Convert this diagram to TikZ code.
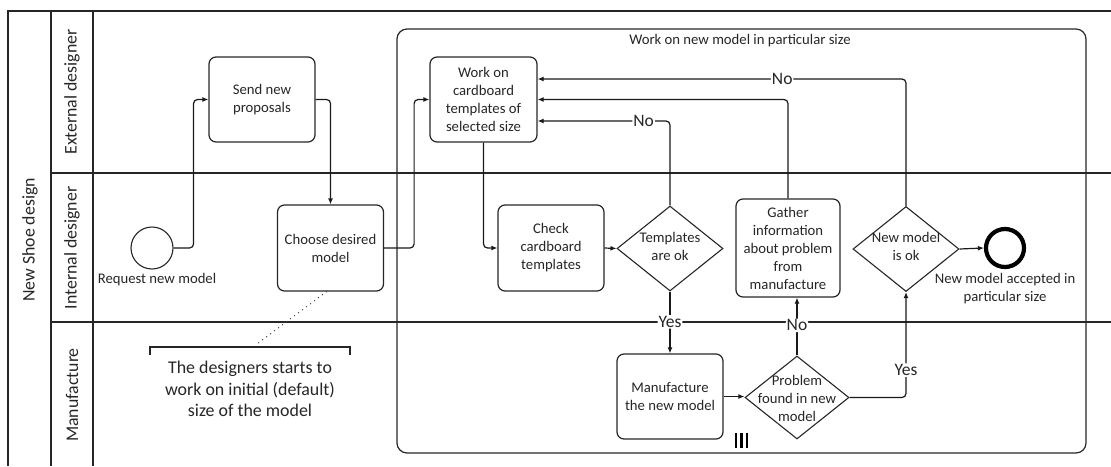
\documentclass[tikz,border=0pt]{standalone}
\usepackage{fontspec}
\setmainfont{Carlito}
\usetikzlibrary{shapes.geometric,arrows.meta}

\newcommand\fmain{\fontsize{14.7}{18}\selectfont}
\newcommand\fedge{\fontsize{17.5}{20}\selectfont}
\newcommand\flane{\fontsize{17.8}{21}\selectfont}
\newcommand\fnote{\fontsize{17.9}{21.5}\selectfont}

\begin{document}
\begin{tikzpicture}[x=1pt,y=-1pt,
  every node/.style={text=black!85},
  pool/.style={draw=black!85, line width=1.3pt},
  task/.style={draw=black!85, line width=1.2pt, rounded corners=7pt,
    minimum width=106pt, minimum height=85pt, align=center, inner sep=2pt, font=\fmain},
  gate/.style={diamond, draw=black!85, line width=1.1pt,
    minimum width=106pt, minimum height=85pt, inner sep=0pt},
  gatetext/.style={align=center, inner sep=0pt, font=\fmain},
  flow/.style={draw=black!90, line width=1.2pt, rounded corners=4pt,
    -{Latex[length=6pt,width=5pt]}},
  cond/.style={fill=white, inner sep=1pt, font=\fedge},
  lanetitle/.style={rotate=90, font=\flane},
  caption/.style={align=center, font=\fmain, inner sep=0pt}]

\useasboundingbox (0,0) rectangle (1111,466);

% pool and lanes
\draw[pool] (1111,11) -- (8,11) -- (8,466);
\draw[pool] (51,11) -- (51,466);
\draw[pool] (93,11) -- (93,466);
\draw[pool] (51,173) -- (1111,173);
\draw[pool] (51,322) -- (1111,322);
\node[lanetitle] (pooltitle) at (30,240) {New Shoe design};
\node[lanetitle] (laneext) at (72,92) {External designer};
\node[lanetitle] (laneint) at (72,248) {Internal designer};
\node[lanetitle] (lanemfg) at (72,395) {Manufacture};

% sub-process frame
\node[draw=black!85, line width=1.2pt, rounded corners=10pt,
  minimum width=689pt, minimum height=424pt, inner sep=0pt] (sub) at (741.5,241) {};
\node[caption, anchor=north] (subtitle) at (740,34) {Work on new model in particular size};
\foreach \bx in {736,741.5,747}
  \draw[line width=2.8pt, black] (\bx,433) -- (\bx,448);

% events
\node[circle, draw=black!85, line width=1.1pt, minimum size=42pt, inner sep=0pt] (start) at (152,248) {};
\node[caption] (startlbl) at (157,280) {Request new model};
\node[circle, draw=black, line width=4.2pt, minimum size=38pt, inner sep=0pt] (end) at (1005,248) {};
\node[caption] (endlbl) at (1005,289) {New model accepted in\\particular size};

% tasks
\node[task] (send) at (262,99.5) {Send new\\proposals};
\node[task, minimum height=86pt] (choose) at (330.5,248) {Choose desired\\model};
\node[task, minimum width=107pt] (work) at (483.5,99.5) {Work on\\cardboard\\templates of\\selected size};
\node[task, minimum height=86pt] (check) at (551,248) {Check\\cardboard\\templates};
\node[task] (manu) at (670,396.5) {Manufacture\\the new model};
\node[task, minimum width=104pt, minimum height=98pt] (gather) at (788,248) {Gather\\information\\about problem\\from\\manufacture};

% gateways
\node[gate] (tpl) at (670,248.5) {};
\node[gatetext] (tpltxt) at (670,246) {Templates\\are ok};
\node[gate, minimum width=104pt, minimum height=83pt] (prob) at (797,397.5) {};
\node[gatetext] (probtxt) at (797,398) {Problem\\found in new\\model};
\node[gate] (nm) at (906,249) {};
\node[gatetext] (nmtxt) at (906,246) {New model\\is ok};

% sequence flows
\draw[flow] (start.east) -- ++(20,0) |- (send.west);
\draw[flow] (send.east) -| (choose.north);
\draw[flow] (choose.east) -- ++(30,0) |- (work.west);
\draw[flow] (work.south) |- (check.west);
\draw[flow] (check.east) -- (tpl.west);
\draw[flow] (tpl.north) |- node[cond, pos=0.6] {No} ([yshift=-21.5pt]work.east);
\draw[flow] (tpl.south) -- node[cond, pos=0.49] {Yes} (manu.north);
\draw[flow] (manu.east) -- (manu.east -| prob.west);
\draw[flow] (prob.north) -- node[cond, pos=0.52] {No} (prob.north |- gather.south);
\draw[flow] (prob.east) -| node[cond, pos=0.63] {Yes} (nm.south);
\draw[flow] (gather.north) |- (work.east);
\draw[flow] (nm.north) |- node[cond, pos=0.668] {No} ([yshift=20.5pt]work.east);
\draw[flow] (nm.east) -- (end.west);

% annotation
\coordinate (notetip) at (257,344);
\draw[black!85, line width=1.2pt] (150,355) -- (150,347) -- (350,347) -- (350,355);
\draw[black!75, line width=1.3pt, line cap=round, dash pattern=on 0pt off 5pt] ([xshift=-4pt]choose.south) -- (notetip);
\node[align=center, font=\fnote, inner sep=0pt] (note) at (250,389)
  {The designers starts to\\work on initial (default)\\size of the model};

\end{tikzpicture}
\end{document}
